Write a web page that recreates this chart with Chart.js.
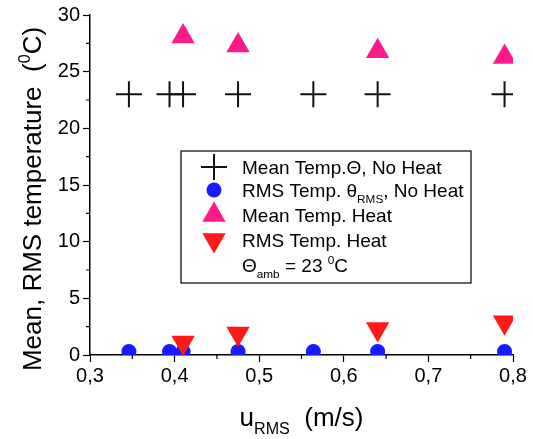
<!DOCTYPE html>
<html>
<head>
<meta charset="utf-8">
<script src="https://cdn.jsdelivr.net/npm/chart.js@4/dist/chart.umd.min.js"></script>
<style>
  html, body { margin: 0; padding: 0; background: #fff; }
  #wrap { width: 533px; height: 439px; }
</style>
</head>
<body>
<div id="wrap"><canvas id="temp-chart" width="533" height="439"></canvas></div>
<script>
// u_RMS (m/s) of the runs
var uNoHeat = [0.346, 0.394, 0.410, 0.475, 0.564, 0.640, 0.790];
var meanNoHeat = [23, 23, 23, 23, 23, 23, 23];
var rmsNoHeat = [0.3, 0.3, 0.3, 0.3, 0.3, 0.3, 0.3];

var uHeat = [0.410, 0.475, 0.640, 0.790];
var meanHeat = [28.1, 27.3, 26.8, 26.3];
var rmsHeat = [1.1, 1.9, 2.3, 2.9];

var xTicks = [0.3, 0.4, 0.5, 0.6, 0.7, 0.8];
var yTicks = [0, 5, 10, 15, 20, 25, 30];

function pts(xs, ys) {
    return xs.map(function (x, i) { return { x: x, y: ys[i] }; });
}

var FONT = '"Liberation Sans", Arial, sans-serif';

// draws text pieces with sub/superscripts
function richText(ctx, parts, x, y, size) {
    parts.forEach(function (p) {
        var s = p.sub || p.sup ? size * 0.62 : size;
        var dy = p.sub ? size * 0.3 : (p.sup ? -size * 0.42 : 0);
        ctx.font = s + 'px ' + FONT;
        ctx.fillText(p.t, x, y + dy);
        x += ctx.measureText(p.t).width;
    });
    return x;
}
function richWidth(ctx, parts, size) {
    var w = 0;
    parts.forEach(function (p) {
        var s = p.sub || p.sup ? size * 0.62 : size;
        ctx.font = s + 'px ' + FONT;
        w += ctx.measureText(p.t).width;
    });
    return w;
}

var extras = {
    id: 'extras',
    afterDraw: function (chart) {
        var ctx = chart.ctx;
        var xs = chart.scales.x, ys = chart.scales.y;
        var area = chart.chartArea;
        ctx.save();
        ctx.strokeStyle = '#000';
        ctx.lineWidth = 1.2;
        // minor ticks
        ctx.beginPath();
        for (var i = 0; i < xTicks.length - 1; i++) {
            var px = xs.getPixelForValue((xTicks[i] + xTicks[i + 1]) / 2);
            ctx.moveTo(px, area.bottom);
            ctx.lineTo(px, area.bottom + 4);
        }
        for (var j = 0; j < yTicks.length - 1; j++) {
            var py = ys.getPixelForValue((yTicks[j] + yTicks[j + 1]) / 2);
            ctx.moveTo(area.left, py);
            ctx.lineTo(area.left - 4, py);
        }
        ctx.stroke();

        ctx.fillStyle = '#000';
        ctx.textBaseline = 'alphabetic';
        ctx.textAlign = 'left';

        // x title
        var xt = [{ t: 'u' }, { t: 'RMS', sub: true }, { t: '  (m/s)' }];
        var w = richWidth(ctx, xt, 26);
        richText(ctx, xt, (area.left + area.right) / 2 - w / 2, 426, 26);

        // y title
        var yt = [{ t: 'Mean, RMS temperature  (' }, { t: '0', sup: true }, { t: 'C)' }];
        ctx.save();
        ctx.translate(41, 199);
        ctx.rotate(-Math.PI / 2);
        var wy = richWidth(ctx, yt, 26);
        richText(ctx, yt, -wy / 2, 0, 26);
        ctx.restore();

        // legend box
        ctx.lineWidth = 1.2;
        ctx.strokeRect(181, 151, 290, 132);
        var rows = [
            { ds: 0, parts: [{ t: 'Mean Temp.\u0398, No Heat' }] },
            { ds: 1, parts: [{ t: 'RMS Temp. \u03b8' }, { t: 'RMS', sub: true }, { t: ', No Heat' }] },
            { ds: 2, parts: [{ t: 'Mean Temp. Heat' }] },
            { ds: 3, parts: [{ t: 'RMS Temp. Heat' }] },
            { ds: -1, parts: [{ t: '\u0398' }, { t: 'amb', sub: true }, { t: ' = 23 ' }, { t: '0', sup: true }, { t: 'C' }] }
        ];
        var rowY = [167, 190, 215, 240, 265];
        rows.forEach(function (r, k) {
            if (r.ds >= 0) {
                var d = chart.data.datasets[r.ds];
                ctx.fillStyle = d.backgroundColor;
                ctx.strokeStyle = d.borderColor;
                ctx.lineWidth = d.borderWidth;
                Chart.helpers.drawPoint(ctx, {
                    pointStyle: d.pointStyle,
                    radius: d.pointRadius,
                    rotation: d.rotation || 0,
                    borderWidth: d.borderWidth
                }, 214, rowY[k]);
            }
            ctx.fillStyle = '#000';
            richText(ctx, r.parts, 242, rowY[k] + 7, 19);
        });
        ctx.restore();
    }
};

var ctxEl = document.getElementById('temp-chart');

var tempChart = new Chart(ctxEl, {
    type: 'scatter',
    data: {
        datasets: [{
            label: 'Mean Temp.\u0398, No Heat',
            data: pts(uNoHeat, meanNoHeat),
            pointStyle: 'cross',
            pointRadius: 13,
            borderColor: '#111',
            backgroundColor: '#111',
            borderWidth: 2,
            order: 1
        }, {
            label: 'RMS Temp. \u03b8RMS, No Heat',
            data: pts(uNoHeat, rmsNoHeat),
            pointStyle: 'circle',
            pointRadius: 7.5,
            borderColor: '#1a1aff',
            backgroundColor: '#1a1aff',
            borderWidth: 0,
            order: 2
        }, {
            label: 'Mean Temp. Heat',
            data: pts(uHeat, meanHeat),
            pointStyle: 'triangle',
            pointRadius: 13.5,
            borderColor: '#ff1a8c',
            backgroundColor: '#ff1a8c',
            borderWidth: 0,
            order: 1
        }, {
            label: 'RMS Temp. Heat',
            data: pts(uHeat, rmsHeat),
            pointStyle: 'triangle',
            rotation: 180,
            pointRadius: 13.5,
            borderColor: '#ff1a1a',
            backgroundColor: '#ff1a1a',
            borderWidth: 0,
            order: 0
        }]
    },
    options: {
        responsive: false,
        animation: false,
        events: [],
        layout: {
            padding: { left: 0, right: 20, top: 2, bottom: 0 }
        },
        plugins: {
            legend: { display: false },
            tooltip: { enabled: false }
        },
        scales: {
            x: {
                type: 'linear',
                min: 0.3,
                max: 0.8,
                afterFit: function (s) { s.height = 84; },
                afterBuildTicks: function (s) {
                    s.ticks = xTicks.map(function (v) { return { value: v }; });
                },
                ticks: {
                    color: '#000',
                    font: { family: FONT, size: 20 },
                    padding: 2,
                    maxRotation: 0,
                    callback: function (v) { return v.toFixed(1).replace('.', ','); }
                },
                grid: {
                    drawOnChartArea: false,
                    tickLength: 7,
                    tickColor: '#000',
                    tickWidth: 1.2
                },
                border: { display: true, color: '#000', width: 1.5 }
            },
            y: {
                type: 'linear',
                min: 0,
                max: 30,
                afterFit: function (s) { s.width = 90; },
                afterBuildTicks: function (s) {
                    s.ticks = yTicks.map(function (v) { return { value: v }; });
                },
                ticks: {
                    color: '#000',
                    font: { family: FONT, size: 20 },
                    padding: 3,
                    callback: function (v) { return String(v); }
                },
                grid: {
                    drawOnChartArea: false,
                    tickLength: 7,
                    tickColor: '#000',
                    tickWidth: 1.2
                },
                border: { display: true, color: '#000', width: 1.5 }
            }
        }
    },
    plugins: [extras]
});
</script>
</body>
</html>
